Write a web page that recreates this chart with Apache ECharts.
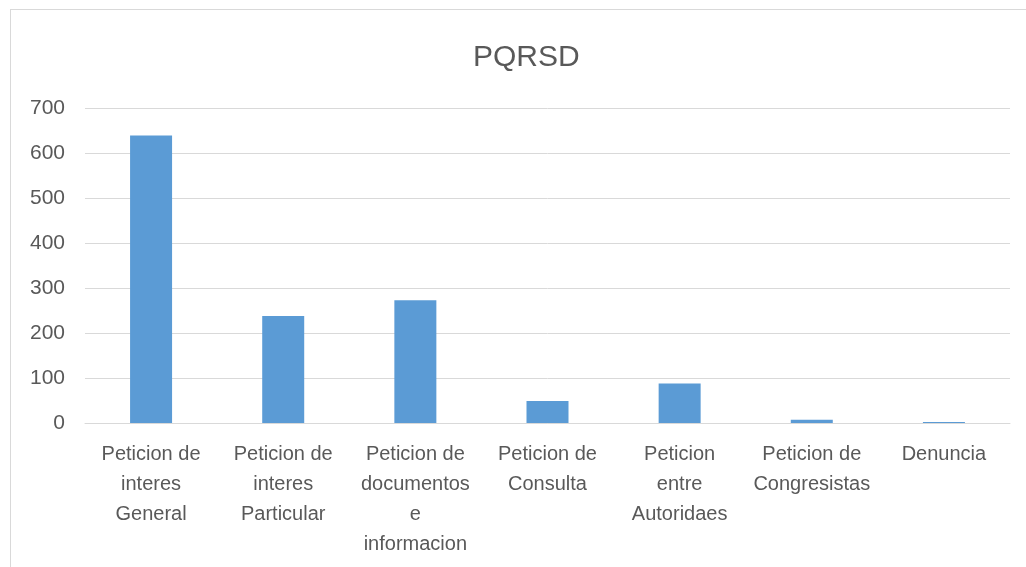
<!DOCTYPE html>
<html>
<head>
<meta charset="utf-8">
<script src="https://cdn.jsdelivr.net/npm/echarts@6/dist/echarts.min.js"></script>
<style>
  html, body { margin: 0; padding: 0; background: #fff; }
  #frame { position: absolute; left: 10px; top: 9px; width: 1030px; height: 600px; border: 1px solid #d9d9d9; }
  #chart { position: absolute; left: 0; top: 0; width: 1026px; height: 567px; }
</style>
</head>
<body>
<div id="frame"></div>
<div id="chart"></div>
<script>
// categories and values
let categories = [
  "Peticion de\ninteres\nGeneral",
  "Peticion de\ninteres\nParticular",
  "Peticion de\ndocumentos\ne\ninformacion",
  "Peticion de\nConsulta",
  "Peticion\nentre\nAutoridaes",
  "Peticion de\nCongresistas",
  "Denuncia"
];
let values = [639, 238, 273, 49, 88, 7, 2];
let yTicks = [0, 700, 100]; // min, max, step

function chartSetup(container) {
  let myChart = echarts.init(container),
    option;
  option = {
    animation: false,
    title: {
      text: "PQRSD",
      left: 468,
      top: 38,
      textStyle: {
        fontFamily: "Liberation Sans",
        fontSize: 30,
        fontWeight: "normal",
        color: "#595959"
      }
    },
    grid: {
      left: 85,
      right: 16,
      top: 108,
      bottom: 144
    },
    xAxis: {
      type: "category",
      data: categories,
      axisLine: { lineStyle: { color: "#d9d9d9", width: 1 } },
      axisTick: { show: false },
      axisLabel: {
        interval: 0,
        margin: 16,
        fontFamily: "Liberation Sans",
        fontSize: 20,
        lineHeight: 30,
        color: "#595959",
        verticalAlign: "top"
      }
    },
    yAxis: {
      type: "value",
      min: yTicks[0],
      max: yTicks[1],
      interval: yTicks[2],
      axisLine: { show: false },
      axisTick: { show: false },
      splitLine: { lineStyle: { color: "#d9d9d9", width: 1 } },
      axisLabel: {
        margin: 20,
        fontFamily: "Liberation Sans",
        fontSize: 21,
        color: "#595959"
      }
    },
    series: [
      {
        type: "bar",
        data: values,
        barWidth: 42,
        itemStyle: { color: "#5b9bd5" }
      }
    ]
  };

  if (option && typeof option === "object") myChart.setOption(option);
  window.addEventListener("resize", function (event) {
    myChart.resize();
  });
}

chartSetup(document.getElementById("chart"));
</script>
</body>
</html>
